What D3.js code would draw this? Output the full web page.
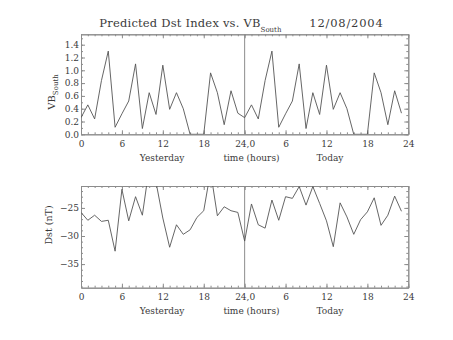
<!DOCTYPE html>
<html>
<head>
<meta charset="utf-8">
<script src="https://cdn.jsdelivr.net/npm/d3@7"></script>
<style>
  body { margin: 0; background: #fff; }
  svg { display: block; }
  text { font-family: "DejaVu Serif", serif; fill: #3a3a3a; }
</style>
</head>
<body>
<svg id="chart" width="453" height="340"></svg>
<script>
// hourly values, yesterday 0-23 then today 0-23
var hours = [0,1,2,3,4,5,6,7,8,9,10,11,12,13,14,15,16,17,18,19,20,21,22,23,
             24,25,26,27,28,29,30,31,32,33,34,35,36,37,38,39,40,41,42,43,44,45,46,47];

var vbYesterday = [0.26,0.46,0.24,0.84,1.30,0.11,0.32,0.52,1.10,0.09,0.65,0.31,
                   1.08,0.39,0.65,0.40,0.00,0.00,0.00,0.96,0.65,0.15,0.68,0.33];
var vbToday     = [0.26,0.46,0.24,0.84,1.30,0.11,0.32,0.52,1.10,0.09,0.65,0.31,
                   1.08,0.39,0.65,0.40,0.00,0.00,0.00,0.96,0.65,0.15,0.68,0.33];

var dstYesterday = [-25.8,-27.2,-26.3,-27.4,-27.2,-32.7,-21.7,-27.3,-23.0,-26.3,-17.8,-20.4,
                    -26.8,-32.0,-28.0,-29.7,-28.9,-26.7,-25.5,-18.5,-26.4,-24.8,-25.5,-25.8];
var dstToday     = [-30.9,-24.3,-28.0,-28.6,-23.6,-27.2,-23.0,-23.3,-21.2,-24.5,-21.2,-24.2,
                    -27.3,-31.9,-24.1,-26.6,-29.7,-27.1,-25.7,-23.2,-28.1,-26.3,-22.9,-25.6];

var xTickValues = [0,6,12,18,24,30,36,42,48];
var xTickLabels = ["0","6","12","18","24,0","6","12","18","24"];
var vbTicks  = [0.0,0.2,0.4,0.6,0.8,1.0,1.2,1.4];
var dstTicks = [-35,-30,-25];

var frameColor = "#8c8c8c";
var lineColor = "#555";

var svg = d3.select("#chart");

var x = d3.scaleLinear().domain([0, 48]).range([81, 408.3]);

var panels = [
  {
    id: "vb", top: 34.3, bottom: 134.3, domain: [0, 1.5625],
    values: vbYesterday.concat(vbToday),
    ticks: vbTicks, minor: d3.range(0, 1.56, 0.1),
    fmt: d3.format(".1f")
  },
  {
    id: "dst", top: 186, bottom: 287.7, domain: [-39.2, -21.1],
    values: dstYesterday.concat(dstToday),
    ticks: dstTicks, minor: d3.range(-39, -21, 1),
    fmt: d3.format("d")
  }
];

function styleAxis(g) {
  g.selectAll("path, line").attr("stroke", frameColor).attr("stroke-width", 1);
  g.selectAll("text").style("font-size", "9px").attr("fill", "#3a3a3a");
}

panels.forEach(function(p) {
  var y = d3.scaleLinear().domain(p.domain).range([p.bottom, p.top]);
  var g = svg.append("g").attr("id", p.id);

  g.append("clipPath").attr("id", "clip_" + p.id)
    .append("rect")
      .attr("x", x(0)).attr("y", p.top)
      .attr("width", x(48) - x(0)).attr("height", p.bottom - p.top);

  // minor ticks on all four sides
  var minorX = d3.range(0, 49, 1);
  g.append("g").attr("transform", "translate(0," + p.bottom + ")")
    .call(d3.axisBottom(x).tickValues(minorX).tickFormat("").tickSize(-2).tickSizeOuter(0)).call(styleAxis);
  g.append("g").attr("transform", "translate(0," + p.top + ")")
    .call(d3.axisTop(x).tickValues(minorX).tickFormat("").tickSize(-2).tickSizeOuter(0)).call(styleAxis);
  g.append("g").attr("transform", "translate(" + x(0) + ",0)")
    .call(d3.axisLeft(y).tickValues(p.minor).tickFormat("").tickSize(-2).tickSizeOuter(0)).call(styleAxis);
  g.append("g").attr("transform", "translate(" + x(48) + ",0)")
    .call(d3.axisRight(y).tickValues(p.minor).tickFormat("").tickSize(-2).tickSizeOuter(0)).call(styleAxis);

  // major ticks with labels
  g.append("g").attr("transform", "translate(0," + p.bottom + ")")
    .call(d3.axisBottom(x).tickValues(xTickValues)
      .tickFormat(function(d, i) { return xTickLabels[i]; })
      .tickSize(-4).tickSizeOuter(0).tickPadding(6)).call(styleAxis);
  g.append("g").attr("transform", "translate(0," + p.top + ")")
    .call(d3.axisTop(x).tickValues(xTickValues).tickFormat("").tickSize(-4).tickSizeOuter(0)).call(styleAxis);
  g.append("g").attr("transform", "translate(" + x(0) + ",0)")
    .call(d3.axisLeft(y).tickValues(p.ticks).tickFormat(p.fmt).tickSize(-4).tickSizeOuter(0).tickPadding(2)).call(styleAxis);
  g.append("g").attr("transform", "translate(" + x(48) + ",0)")
    .call(d3.axisRight(y).tickValues(p.ticks).tickFormat("").tickSize(-4).tickSizeOuter(0)).call(styleAxis);

  // day boundary
  g.append("line")
    .attr("x1", x(24)).attr("x2", x(24))
    .attr("y1", p.top).attr("y2", p.bottom)
    .attr("stroke", frameColor).attr("stroke-width", 1);

  var line = d3.line()
    .x(function(d, i) { return x(hours[i]); })
    .y(function(d) { return y(d); });

  g.append("path")
    .datum(p.values)
    .attr("clip-path", "url(#clip_" + p.id + ")")
    .attr("d", line)
    .attr("fill", "none")
    .attr("stroke", lineColor)
    .attr("stroke-width", 0.9)
    .attr("stroke-linejoin", "miter");

  // x titles
  var ty = p.bottom + 26.5;
  g.append("text").attr("x", x(11.9)).attr("y", ty).attr("text-anchor", "middle")
    .style("font-size", "9px").text("Yesterday");
  g.append("text").attr("x", x(25.0)).attr("y", ty).attr("text-anchor", "middle")
    .style("font-size", "9px").text("time (hours)");
  g.append("text").attr("x", x(36.5)).attr("y", ty).attr("text-anchor", "middle")
    .style("font-size", "9px").text("Today");
});

// y titles
var vbLabel = svg.append("text")
  .attr("transform", "translate(54.5,92) rotate(-90)")
  .attr("text-anchor", "middle")
  .style("font-size", "10px");
vbLabel.append("tspan").text("VB");
vbLabel.append("tspan").attr("dy", 3).style("font-size", "7px").text("South");

svg.append("text")
  .attr("transform", "translate(52,225) rotate(-90)")
  .attr("text-anchor", "middle")
  .style("font-size", "9.5px")
  .text("Dst (nT)");

// title
var title = svg.append("text").attr("x", 99.3).attr("y", 27.3)
  .style("font-size", "11.5px").style("letter-spacing", "0.2px");
title.append("tspan").text("Predicted Dst Index vs. VB");
title.append("tspan").attr("dy", 5).style("font-size", "7px").style("letter-spacing", "0").text("South");
svg.append("text").attr("x", 309.3).attr("y", 27.3)
  .style("font-size", "11.5px").style("letter-spacing", "0.8px").text("12/08/2004");
</script>
</body>
</html>
